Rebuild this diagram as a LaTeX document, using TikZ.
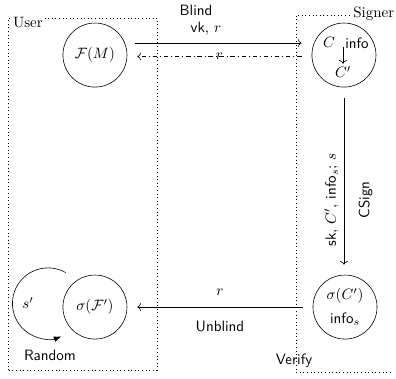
\documentclass[tikz,border=0pt]{standalone}
\usepackage{tikz}
\usetikzlibrary{arrows.meta, positioning, calc}

\begin{document}
\begin{tikzpicture}[x=1pt, y=1pt,
    party/.style={circle, draw, minimum size=42.7pt, inner sep=1pt},
    lbl/.style={font=\sffamily}]
    \useasboundingbox (0,0) rectangle (264,252);

    % Boxes for the two parties
    \draw[dotted] (5.3,5.3) rectangle (104.7,240);
    \draw[dotted] (240,242) -- (197.3,242) -- (197.3,4) -- (261.5,4);
    \node[fill=white, inner sep=1pt, anchor=east] (signer) at (264,242.7) {Signer};
    \node[fill=white, inner sep=1pt, anchor=west] (user) at (7.5,237.3) {User};
    \node[lbl] (verify) at (196,11.3) {Verify};
    \node[lbl] (random) at (33.3,15.3) {Random};

    % States
    \node[party] (fm) at (63.3,215.3) {$\mathcal{F}(M)$};
    \node[party] (sig) at (229.3,215.3) {};
    \node[inner sep=0pt] (c) at (219.3,224) {$C$};
    \node[lbl] (info) at (238,223.3) {info};
    \node[inner sep=0pt] (cp) at (228.7,204) {$C'$};
    \node[party] (sf) at (63.3,47.3) {$\sigma(\mathcal{F}')$};
    \node[party, align=center] (sc) at (230,47.3) {$\sigma(C')$\\[4pt]\textsf{info}$_s$};
    \node (sp) at (18.7,50) {$s'$};
    \coordinate (loopc) at (32,49.7);

    % Blind
    \draw[-{To}] ($(fm.east)+(5.3,8)$) -- ($(sig.west)+(-6.7,8)$);
    \draw[dash dot, -{To}] ($(sig.west)+(-6.7,-1)$) -- ($(fm.east)+(6.7,-1)$)
        node[midway] {$r$};
    \node (blind) at (130.7,245.3) {\textsf{Blind}};
    \node (vk) at (137.3,232.7) {\textsf{vk}, $r$};
    \draw[-{To}, shorten >=1.5pt] (cp.north |- c.south) -- (cp.north);

    % Sign
    \draw[-{To}, shorten <=7.3pt, shorten >=6.7pt] (sig.south) -- (sig.south |- sc.north)
        node[pos=.6, rotate=90, anchor=south] {\textsf{sk}, $C'$, \textsf{info}$_s$; $s$}
        node[pos=.6, rotate=90, anchor=north, inner ysep=9.5pt] {\textsf{CSign}};

    % Unblind
    \draw[-{To}, shorten <=6.7pt, shorten >=6.7pt] (sc.west) -- (sf.east)
        node[midway, above=4pt] {$r$}
        node[midway, below=6pt, lbl] {Unblind};
    \draw[-{Latex[length=5pt]}] ($(loopc)+(60:23.7)$) arc (60:292:23.7);
\end{tikzpicture}
\end{document}
